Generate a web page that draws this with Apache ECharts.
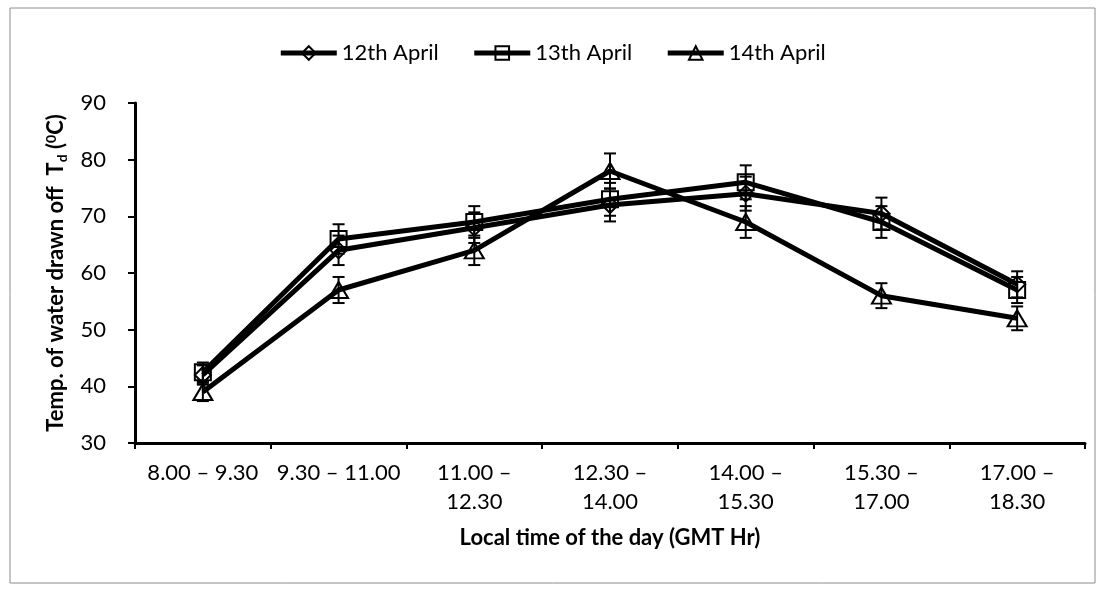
<!DOCTYPE html>
<html>
<head>
<meta charset="utf-8">
<script src="https://cdn.jsdelivr.net/npm/echarts@6/dist/echarts.min.js"></script>
<style>html,body{margin:0;padding:0;background:#fff}#c{width:1104px;height:591px}</style>
</head>
<body>
<div id="c"></div>
<script>
const categories = ['8.00 – 9.30', '9.30 – 11.00', '11.00 –\n12.30', '12.30 –\n14.00', '14.00 –\n15.30', '15.30 –\n17.00', '17.00 –\n18.30'];
const april12 = [42, 64, 68, 72, 74, 70.5, 58];
const april13 = [42.5, 66, 69, 73, 76, 69, 57];
const april14 = [39, 57, 64, 78, 69, 56, 52];
const err12 = [1.7, 2.6, 2.7, 2.9, 3.0, 2.8, 2.3];
const err13 = [1.7, 2.6, 2.8, 2.9, 3.0, 2.8, 2.3];
const err14 = [1.6, 2.3, 2.6, 3.1, 2.8, 2.2, 2.1];
const yTicks = [30, 40, 50, 60, 70, 80, 90];

const FONT = 'Lato';
const chart = echarts.init(document.getElementById('c'));

function errData(vals, errs) {
  return vals.map((v, i) => [i, v - errs[i], v + errs[i]]);
}
function errSeries(vals, errs) {
  return {
    type: 'custom',
    silent: true,
    z: 1,
    data: errData(vals, errs),
    renderItem: function (params, api) {
      const lo = api.coord([api.value(0), api.value(1)]);
      const hi = api.coord([api.value(0), api.value(2)]);
      const w = 6;
      const st = { stroke: '#000', lineWidth: 2 };
      return {
        type: 'group',
        children: [
          { type: 'line', shape: { x1: lo[0], y1: lo[1], x2: hi[0], y2: hi[1] }, style: st },
          { type: 'line', shape: { x1: lo[0] - w, y1: lo[1], x2: lo[0] + w, y2: lo[1] }, style: st },
          { type: 'line', shape: { x1: hi[0] - w, y1: hi[1], x2: hi[0] + w, y2: hi[1] }, style: st }
        ]
      };
    }
  };
}
function lineSeries(name, vals, symbol, size) {
  return {
    name: name,
    type: 'line',
    data: vals,
    symbol: symbol,
    symbolSize: size,
    showAllSymbol: true,
    z: 3,
    lineStyle: { color: '#000', width: 5 },
    itemStyle: { color: 'rgba(255,255,255,0)', borderColor: '#000', borderWidth: 2 },
    emphasis: { disabled: true }
  };
}

chart.setOption({
  animation: false,
  backgroundColor: '#fff',
  graphic: [{
    type: 'rect', shape: { x: 10, y: 8, width: 1085, height: 575 },
    style: { fill: 'none', stroke: '#8c8c8c', lineWidth: 1 }, z: -1
  }],
  legend: {
    top: 37,
    left: 'center',
    itemWidth: 56,
    itemHeight: 17,
    itemGap: 33,
    lineStyle: { width: 5, color: '#000' },
    textStyle: { fontFamily: FONT, fontSize: 22, color: '#000' },
    data: ['12th April', '13th April', '14th April']
  },
  grid: { left: 135, right: 19, top: 103, bottom: 148 },
  xAxis: {
    type: 'category',
    data: categories,
    boundaryGap: true,
    axisLine: { lineStyle: { color: '#000', width: 3 } },
    axisTick: { show: true, alignWithLabel: false, length: 6, lineStyle: { color: '#000', width: 2 } },
    axisLabel: { interval: 0, color: '#000', fontFamily: FONT, fontSize: 22, lineHeight: 29, margin: 15 },
    name: 'Local time of the day (GMT Hr)',
    nameLocation: 'middle',
    nameGap: 84,
    nameTextStyle: { fontFamily: FONT, fontSize: 22, fontWeight: 'bold', color: '#000' }
  },
  yAxis: {
    type: 'value',
    min: 30, max: 90, interval: 10,
    splitLine: { show: false },
    axisLine: { show: true, lineStyle: { color: '#000', width: 3 } },
    axisTick: { show: true, length: 7, lineStyle: { color: '#000', width: 2 } },
    axisLabel: {
      color: '#000', fontFamily: FONT, fontSize: 22, margin: 29,
      formatter: function (v) { return yTicks.indexOf(v) >= 0 ? String(v) : ''; }
    },
    name: '{b|Temp. of water drawn off  T}{s|d}{b| (}{p|0}{b|C)}',
    nameLocation: 'middle',
    nameGap: 55,
    nameTextStyle: {
      rich: {
        b: { fontFamily: FONT, fontSize: 22, fontWeight: 'bold', color: '#000', lineHeight: 28 },
        s: { fontFamily: FONT, fontSize: 14, fontWeight: 'bold', color: '#000', lineHeight: 28, verticalAlign: 'bottom', padding: [11, 0, 0, 0] },
        p: { fontFamily: FONT, fontSize: 14, fontWeight: 'bold', color: '#000', lineHeight: 28, padding: [0, 0, 9, 0] }
      }
    }
  },
  series: [
    errSeries(april12, err12),
    errSeries(april13, err13),
    errSeries(april14, err14),
    lineSeries('12th April', april12, 'diamond', [16, 16]),
    lineSeries('13th April', april13, 'rect', [16, 16]),
    lineSeries('14th April', april14, 'triangle', [19, 16])
  ]
});
</script>
</body>
</html>
